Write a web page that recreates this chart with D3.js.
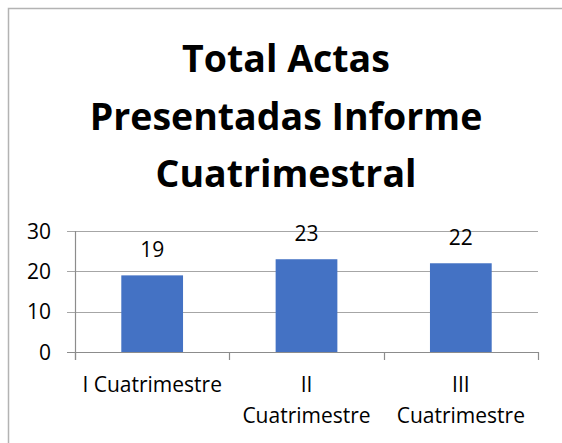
<!DOCTYPE html>
<html>
<head>
<meta charset="utf-8">
<script src="https://cdn.jsdelivr.net/npm/d3@7"></script>
<style>
  body { margin: 0; background: #fff; overflow: hidden; }
  svg { display: block; }
  svg text { font-family: "Open Sans", Lato, sans-serif; fill: #000; }
</style>
</head>
<body>
<div id="chart"></div>
<script>
// data
var categories = ["I Cuatrimestre", "II Cuatrimestre", "III Cuatrimestre"];
var values = [19, 23, 22];
var yTicks = [0, 10, 20, 30];
var titleLines = ["Total Actas", "Presentadas Informe", "Cuatrimestral"];
// how each category label wraps
var catLines = [["I Cuatrimestre"], ["II", "Cuatrimestre"], ["III", "Cuatrimestre"]];

var W = 562, H = 443;
var plotL = 75, plotR = 538, plotT = 231, plotB = 352;

var svg = d3.select("#chart").append("svg")
	.attr("width", W)
	.attr("height", H);

// outer frame (only top and left edges fall inside the picture)
svg.append("path")
	.attr("d", "M8.5," + (H + 2) + "V8.5H" + (W + 2))
	.attr("fill", "none")
	.attr("stroke", "#b3b3b3")
	.attr("stroke-width", 1.5);

// title
svg.append("g").selectAll("text")
	.data(titleLines)
	.enter().append("text")
	.attr("x", 286)
	.attr("y", function(d, i) { return 72 + i * 57.5; })
	.attr("text-anchor", "middle")
	.style("font-size", "37.5px")
	.style("font-weight", "bold")
	.text(function(d) { return d; });

var x = d3.scaleBand().domain(categories).range([plotL, plotR]).paddingInner(0.6).paddingOuter(0.3);
var xb = d3.scaleBand().domain(categories).range([plotL, plotR]);
var y = d3.scaleLinear().domain([0, 30]).range([plotB, plotT]);

// gridlines + y ticks
svg.append("g").selectAll("line")
	.data(yTicks.slice(1))
	.enter().append("line")
	.attr("x1", plotL - 8).attr("x2", plotR)
	.attr("y1", function(d) { return Math.round(y(d)) + 0.5; })
	.attr("y2", function(d) { return Math.round(y(d)) + 0.5; })
	.attr("stroke", "#a6a6a6")
	.attr("stroke-width", 1.2);

svg.append("g").selectAll("text")
	.data(yTicks)
	.enter().append("text")
	.attr("x", 51)
	.attr("y", function(d) { return y(d) + 7.5; })
	.attr("text-anchor", "end")
	.style("font-size", "21px")
	.text(function(d) { return d; });

// bars
svg.append("g").selectAll("rect")
	.data(values)
	.enter().append("rect")
	.attr("x", function(d, i) { return x(categories[i]); })
	.attr("y", function(d) { return y(d); })
	.attr("width", x.bandwidth())
	.attr("height", function(d) { return plotB - y(d); })
	.attr("fill", "#4472C4");

// data labels
svg.append("g").selectAll("text")
	.data(values)
	.enter().append("text")
	.attr("x", function(d, i) { return xb(categories[i]) + xb.bandwidth() / 2; })
	.attr("y", function(d) { return y(d) - 18; })
	.attr("text-anchor", "middle")
	.style("font-size", "21px")
	.text(function(d) { return d; });

// axes lines
svg.append("line")
	.attr("x1", plotL + 0.5).attr("x2", plotL + 0.5)
	.attr("y1", plotT).attr("y2", plotB + 8)
	.attr("stroke", "#8c8c8c").attr("stroke-width", 1.2);
svg.append("line")
	.attr("x1", plotL - 8).attr("x2", plotR)
	.attr("y1", plotB + 0.5).attr("y2", plotB + 0.5)
	.attr("stroke", "#8c8c8c").attr("stroke-width", 1.2);
svg.append("g").selectAll("line")
	.data(categories.concat(["end"]))
	.enter().append("line")
	.attr("x1", function(d, i) { return Math.round(plotL + i * xb.bandwidth()) + 0.5; })
	.attr("x2", function(d, i) { return Math.round(plotL + i * xb.bandwidth()) + 0.5; })
	.attr("y1", plotB).attr("y2", plotB + 8)
	.attr("stroke", "#8c8c8c").attr("stroke-width", 1.2);

// category labels
var cl = svg.append("g").selectAll("text")
	.data(categories)
	.enter().append("text")
	.attr("text-anchor", "middle")
	.style("font-size", "21px");
cl.selectAll("tspan")
	.data(function(d, i) { return catLines[i].map(function(t) { return {t: t, c: d}; }); })
	.enter().append("tspan")
	.attr("x", function(d) { return xb(d.c) + xb.bandwidth() / 2; })
	.attr("y", function(d, j) { return 392 + j * 30.5; })
	.text(function(d) { return d.t; });
</script>
</body>
</html>
